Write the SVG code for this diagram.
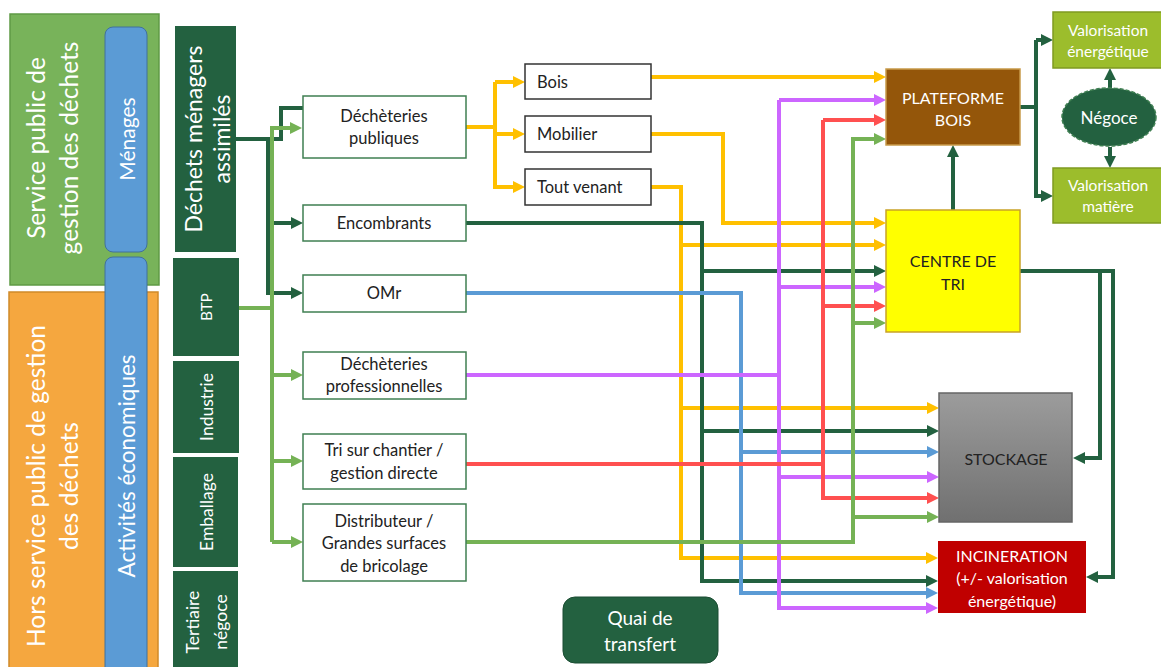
<svg xmlns="http://www.w3.org/2000/svg" width="1161" height="667" viewBox="0 0 1161 667">
<defs>
<style>
text{font-family:Lato,"Open Sans","Liberation Sans",sans-serif;}
.w{fill:#fff;}
.k{fill:#222;}
.c{text-anchor:middle;dominant-baseline:central;}
.dg{fill:#236140;}
.ibox{fill:#fff;stroke:#3f7f52;stroke-width:1.5;}
.kbox{fill:#fff;stroke:#333;stroke-width:1.5;}
.ln{fill:none;stroke-width:4;stroke-linejoin:miter;}
.g{stroke:#236140;marker-end:url(#ag);}
.lg{stroke:#75b255;marker-end:url(#alg);}
.y{stroke:#ffc000;marker-end:url(#ay);}
.b{stroke:#5b9bd5;marker-end:url(#ab);}
.p{stroke:#cc66ff;marker-end:url(#ap);}
.r{stroke:#ff5050;marker-end:url(#ar);}
.nm{marker-end:none;}
.t{font-size:16.5px;}
</style>
<marker id="ag" markerUnits="userSpaceOnUse" markerWidth="12" markerHeight="12" refX="4" refY="6" orient="auto"><path d="M0,0 L12,6 L0,12z" fill="#236140"/></marker>
<marker id="alg" markerUnits="userSpaceOnUse" markerWidth="12" markerHeight="12" refX="4" refY="6" orient="auto"><path d="M0,0 L12,6 L0,12z" fill="#75b255"/></marker>
<marker id="ay" markerUnits="userSpaceOnUse" markerWidth="12" markerHeight="12" refX="4" refY="6" orient="auto"><path d="M0,0 L12,6 L0,12z" fill="#ffc000"/></marker>
<marker id="ab" markerUnits="userSpaceOnUse" markerWidth="12" markerHeight="12" refX="4" refY="6" orient="auto"><path d="M0,0 L12,6 L0,12z" fill="#5b9bd5"/></marker>
<marker id="ap" markerUnits="userSpaceOnUse" markerWidth="12" markerHeight="12" refX="4" refY="6" orient="auto"><path d="M0,0 L12,6 L0,12z" fill="#cc66ff"/></marker>
<marker id="ar" markerUnits="userSpaceOnUse" markerWidth="12" markerHeight="12" refX="4" refY="6" orient="auto"><path d="M0,0 L12,6 L0,12z" fill="#ff5050"/></marker>
<linearGradient id="gray" x1="0" y1="0" x2="0" y2="1"><stop offset="0" stop-color="#9c9c9c"/><stop offset="1" stop-color="#707070"/></linearGradient>
</defs>
<rect width="1161" height="667" fill="#fff"/>

<g id="panel-service-public">
<rect x="10" y="14" width="149" height="271" fill="#78b35a" stroke="#5f9a45" stroke-width="1.5"/>
<text class="w c" font-size="24.5" transform="translate(35,148) rotate(-90)">Service public de</text>
<text class="w c" font-size="24.5" transform="translate(68,148) rotate(-90)">gestion des déchets</text>
</g>
<g id="panel-hors-service">
<rect x="9" y="292" width="149" height="380" fill="#f5a73f" stroke="#d08a2a" stroke-width="1.5"/>
<text class="w c" font-size="24.5" transform="translate(35,486) rotate(-90)">Hors service public de gestion</text>
<text class="w c" font-size="24.5" transform="translate(68,486) rotate(-90)">des déchets</text>
</g>
<g id="menages">
<rect x="105" y="27" width="42" height="225" rx="8" fill="#5b9bd5" stroke="#41719c" stroke-width="1"/>
<text class="w c" font-size="21" transform="translate(126,139) rotate(-90)">Ménages</text>
</g>
<g id="activites">
<rect x="105" y="257" width="42" height="420" rx="8" fill="#5b9bd5" stroke="#41719c" stroke-width="1"/>
<text class="w c" font-size="22.5" transform="translate(126,466) rotate(-90)">Activités économiques</text>
</g>

<g id="dechets-menagers">
<rect class="dg" x="175" y="26" width="61" height="226"/>
<text class="w c" font-size="23" transform="translate(193,139) rotate(-90)">Déchets ménagers</text>
<text class="w c" font-size="23" transform="translate(221,139) rotate(-90)">assimilés</text>
</g>
<g id="btp"><rect class="dg" x="173" y="258" width="66" height="98"/><text class="w c" font-size="15" transform="translate(206,307) rotate(-90)">BTP</text></g>
<g id="industrie"><rect class="dg" x="173" y="361" width="66" height="92"/><text class="w c" font-size="17.5" transform="translate(206,407) rotate(-90)">Industrie</text></g>
<g id="emballage"><rect class="dg" x="173" y="457" width="65" height="110"/><text class="w c" font-size="17.5" transform="translate(206,512) rotate(-90)">Emballage</text></g>
<g id="tertiaire"><rect class="dg" x="173" y="571" width="65" height="100"/>
<text class="w c" font-size="17.5" transform="translate(192,622) rotate(-90)">Tertiaire</text>
<text class="w c" font-size="17.5" transform="translate(220,622) rotate(-90)">négoce</text></g>

<g id="connectors">
<path class="ln g" d="M236,139 H281 V108 H315"/>
<path class="ln g" d="M268,139 V293 H295"/>
<path class="ln g" d="M268,223 H295"/>
<path class="ln lg nm" d="M239,308 H272"/>
<path class="ln lg" d="M272,542 V128 H294"/>
<path class="ln lg" d="M272,542 H295"/>
<path class="ln lg" d="M272,375 H295"/>
<path class="ln lg" d="M272,461 H295"/>
<path class="ln y nm" d="M466,127 H495"/>
<path class="ln y" d="M495,82 V187 H517"/>
<path class="ln y" d="M495,82 H517"/>
<path class="ln y" d="M495,134 H517"/>
<path class="ln y" d="M651,77 H878"/>
<path class="ln y" d="M651,134 H723 V223 H878"/>
<path class="ln y" d="M651,187 H681 V558 H930"/>
<path class="ln y" d="M681,245 H878"/>
<path class="ln y" d="M681,408 H931"/>
<path class="ln g" d="M466,223 H702 V581 H930"/>
<path class="ln g" d="M702,271 H878"/>
<path class="ln g" d="M702,431 H931"/>
<path class="ln b" d="M466,293 H741 V593 H930"/>
<path class="ln b" d="M741,452 H931"/>
<path class="ln p nm" d="M466,375 H779"/>
<path class="ln p" d="M779,100 V608 H930"/>
<path class="ln p" d="M779,100 H878"/>
<path class="ln p" d="M779,287 H878"/>
<path class="ln p" d="M779,477 H931"/>
<path class="ln r nm" d="M466,464 H823"/>
<path class="ln r" d="M823,120 V498 H931"/>
<path class="ln r" d="M823,120 H878"/>
<path class="ln r" d="M823,306 H878"/>
<path class="ln lg" d="M466,542 H853 V139 H878"/>
<path class="ln lg" d="M853,323 H878"/>
<path class="ln lg" d="M853,517 H931"/>
<path class="ln g" d="M953,210 V153"/>
<path class="ln g nm" d="M1020,107 H1036"/>
<path class="ln g" d="M1036,40 V196 H1045"/>
<path class="ln g" d="M1036,40 H1045"/>
<path class="ln g" d="M1110,88 V76"/>
<path class="ln g" d="M1110,147 V160"/>
<path class="ln g" d="M1020,271 H1113 V577 H1094"/>
<path class="ln g" d="M1100,271 V458 H1081"/>
</g>

<g id="decheteries-publiques"><rect class="ibox" x="303" y="96" width="163" height="62"/>
<text class="k c t" x="384" y="116">Déchèteries</text><text class="k c t" x="384" y="138">publiques</text></g>
<g id="encombrants"><rect class="ibox" x="303" y="205" width="163" height="36"/><text class="k c t" x="384" y="223">Encombrants</text></g>
<g id="omr"><rect class="ibox" x="303" y="275" width="163" height="37"/><text class="k c t" x="384" y="293">OMr</text></g>
<g id="decheteries-pro"><rect class="ibox" x="303" y="352" width="163" height="47"/>
<text class="k c t" x="384" y="364">Déchèteries</text><text class="k c t" x="384" y="386">professionnelles</text></g>
<g id="tri-chantier"><rect class="ibox" x="303" y="434" width="163" height="55"/>
<text class="k c t" x="384" y="450">Tri sur chantier /</text><text class="k c t" x="384" y="473">gestion directe</text></g>
<g id="distributeur"><rect class="ibox" x="303" y="504" width="163" height="77"/>
<text class="k c t" x="384" y="521">Distributeur /</text><text class="k c t" x="384" y="543">Grandes surfaces</text><text class="k c t" x="384" y="566">de bricolage</text></g>

<g id="bois"><rect class="kbox" x="525" y="64" width="126" height="35"/><text class="k t" x="537" y="82" dominant-baseline="central">Bois</text></g>
<g id="mobilier"><rect class="kbox" x="525" y="116" width="126" height="36"/><text class="k t" x="537" y="134" dominant-baseline="central">Mobilier</text></g>
<g id="tout-venant"><rect class="kbox" x="525" y="169" width="126" height="36"/><text class="k t" x="537" y="187" dominant-baseline="central">Tout venant</text></g>

<g id="quai-transfert"><rect x="563" y="597" width="155" height="66" rx="12" fill="#236140" stroke="#1b4d32" stroke-width="1"/>
<text class="w c" font-size="19" x="640" y="617">Quai de</text><text class="w c" font-size="19" x="640" y="643">transfert</text></g>

<g id="plateforme-bois"><rect x="886" y="69" width="134" height="76" fill="#94560a" stroke="#c89a4a" stroke-width="1.5"/>
<text class="w c" font-size="16" x="953" y="97">PLATEFORME</text><text class="w c" font-size="16" x="953" y="119">BOIS</text></g>
<g id="centre-tri"><rect x="886" y="210" width="134" height="122" fill="#ffff00" stroke="#c9a227" stroke-width="1.5"/>
<text class="k c" font-size="16" x="953" y="260">CENTRE DE</text><text class="k c" font-size="16" x="953" y="283">TRI</text></g>
<g id="valorisation-energetique"><rect x="1053" y="12" width="110" height="56" fill="#9cbd2c" stroke="#7f9a21" stroke-width="1.5"/>
<text class="w c" font-size="15.5" x="1108" y="30">Valorisation</text><text class="w c" font-size="15.5" x="1108" y="51">énergétique</text></g>
<g id="valorisation-matiere"><rect x="1053" y="168" width="110" height="55" fill="#9cbd2c" stroke="#7f9a21" stroke-width="1.5"/>
<text class="w c" font-size="15.5" x="1108" y="185">Valorisation</text><text class="w c" font-size="15.5" x="1108" y="206">matière</text></g>
<g id="negoce"><ellipse cx="1109" cy="117" rx="47" ry="29" fill="#236140" stroke="#3f7f52" stroke-width="1.5" stroke-dasharray="4 2"/>
<text class="w c" font-size="17" x="1109" y="117">Négoce</text></g>
<g id="stockage"><rect x="939" y="393" width="133" height="129" fill="url(#gray)" stroke="#666" stroke-width="1.5"/>
<text class="k c" font-size="16" x="1006" y="458">STOCKAGE</text></g>
<g id="incineration"><rect x="938" y="541" width="148" height="72" fill="#c00000"/>
<text class="w c" font-size="16" x="1012" y="555">INCINERATION</text><text class="w c" font-size="16" x="1012" y="577">(+/- valorisation</text><text class="w c" font-size="16" x="1012" y="600">énergétique)</text></g>
</svg>
